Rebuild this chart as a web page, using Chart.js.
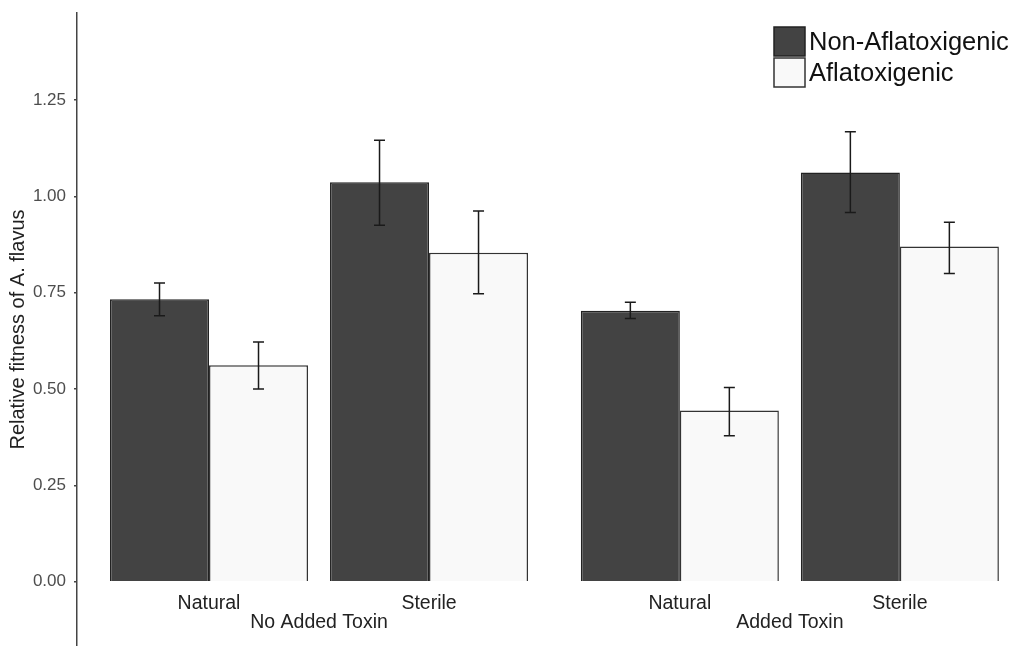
<!DOCTYPE html>
<html>
<head>
<meta charset="utf-8">
<script src="https://cdn.jsdelivr.net/npm/chart.js@4"></script>
<style>
  html, body { margin: 0; padding: 0; background: #fff; }
  #wrap { width: 1026px; height: 646px; position: relative; }
</style>
</head>
<body>
<div id="wrap"><canvas id="barChart"></canvas></div>
<script>
const categories = ['Natural', 'Sterile', 'Natural', 'Sterile'];
const facets = ['No Added Toxin', 'Added Toxin'];
const seriesNames = ['Non-Aflatoxigenic', 'Aflatoxigenic'];

const nonAflaMean = [0.733, 1.037, 0.703, 1.062];
const nonAflaLow = [0.690, 0.925, 0.683, 0.958];
const nonAflaHigh = [0.775, 1.146, 0.725, 1.168];

const aflaMean = [0.562, 0.854, 0.444, 0.870];
const aflaLow = [0.500, 0.747, 0.379, 0.800];
const aflaHigh = [0.622, 0.962, 0.504, 0.933];

const yTicks = [0, 0.25, 0.5, 0.75, 1.0, 1.25];

// x position of each category: two per facet, facets pushed apart a bit
const FACET_SHIFT = 2.14;
const xPos = (i) => 1 + (i % 2) + Math.floor(i / 2) * FACET_SHIFT;
const facetPos = facets.map((f, j) => 1.5 + j * FACET_SHIFT);

const FONT = '"Liberation Sans", Arial, sans-serif';
const X_MIN = 0.4, X_MAX = 4.686;

const data = {
  datasets: [
    {
      label: seriesNames[0],
      data: nonAflaMean.map((v, i) => ({ x: xPos(i), y: v })),
      low: nonAflaLow,
      high: nonAflaHigh,
      backgroundColor: '#434343',
      borderColor: '#222222',
      borderWidth: 1.5,
    },
    {
      label: seriesNames[1],
      data: aflaMean.map((v, i) => ({ x: xPos(i), y: v })),
      low: aflaLow,
      high: aflaHigh,
      backgroundColor: '#f9f9f9',
      borderColor: '#333333',
      borderWidth: 1.5,
    },
  ],
};

// error bars drawn on top of the bars
const errorBars = {
  id: 'errorBars',
  afterDatasetsDraw(chart) {
    const ctx = chart.ctx;
    const yScale = chart.scales.y;
    ctx.save();
    ctx.strokeStyle = '#1a1a1a';
    ctx.lineWidth = 1.5;
    chart.data.datasets.forEach((ds, d) => {
      chart.getDatasetMeta(d).data.forEach((bar, i) => {
        const top = yScale.getPixelForValue(ds.high[i]);
        const bot = yScale.getPixelForValue(ds.low[i]);
        const half = 5.5;
        ctx.beginPath();
        ctx.moveTo(bar.x, top);
        ctx.lineTo(bar.x, bot);
        ctx.moveTo(bar.x - half, top);
        ctx.lineTo(bar.x + half, top);
        ctx.moveTo(bar.x - half, bot);
        ctx.lineTo(bar.x + half, bot);
        ctx.stroke();
      });
    });
    ctx.restore();
  },
};

// stacked legend in the top right corner
const boxLegend = {
  id: 'boxLegend',
  afterDraw(chart) {
    const ctx = chart.ctx;
    const x0 = 774, y0 = 27, w = 31, h = 29, gap = 2;
    ctx.save();
    ctx.font = '25.5px ' + FONT;
    ctx.textBaseline = 'middle';
    ctx.textAlign = 'left';
    chart.data.datasets.forEach((ds, d) => {
      const y = y0 + d * (h + gap);
      ctx.fillStyle = ds.backgroundColor;
      ctx.fillRect(x0, y, w, h);
      ctx.strokeStyle = ds.borderColor;
      ctx.lineWidth = 1.5;
      ctx.strokeRect(x0, y, w, h);
      ctx.fillStyle = '#111111';
      ctx.fillText(ds.label, x0 + w + 4, y + h / 2 + 1);
    });
    ctx.restore();
  },
};

const xAxisBase = {
  type: 'linear',
  min: X_MIN,
  max: X_MAX,
  offset: false,
  position: { y: 0 },
  grid: { display: false, drawTicks: false },
  border: { display: false },
};

const config = {
  type: 'bar',
  data: data,
  options: {
    responsive: true,
    maintainAspectRatio: false,
    animation: false,
    categoryPercentage: 0.9,
    barPercentage: 1.0,
    layout: { padding: { top: 13, right: 6, bottom: 0, left: 0 } },
    scales: {
      x: {
        ...xAxisBase,
        afterBuildTicks: (scale) => {
          scale.ticks = categories.map((c, i) => ({ value: xPos(i) }));
        },
        ticks: {
          autoSkip: false,
          maxRotation: 0,
          padding: 10,
          color: '#222222',
          font: { family: FONT, size: 19.5 },
          callback: (value, index) => categories[index],
        },
      },
      x2: {
        ...xAxisBase,
        afterBuildTicks: (scale) => {
          scale.ticks = facetPos.map((v) => ({ value: v }));
        },
        ticks: {
          autoSkip: false,
          maxRotation: 0,
          padding: 29,
          color: '#222222',
          font: { family: FONT, size: 19.5 },
          callback: (value, index) => facets[index],
        },
      },
      y: {
        min: -0.167,
        max: 1.476,
        afterBuildTicks: (scale) => {
          scale.ticks = yTicks.map((v) => ({ value: v }));
        },
        afterFit: (scale) => {
          scale.width = 77;
          scale.paddingTop = 0;
          scale.paddingBottom = 0;
        },
        grid: {
          drawOnChartArea: false,
          tickLength: 3,
          color: '#444444',
          lineWidth: 1.5,
        },
        border: { display: true, color: '#444444', width: 1.5 },
        ticks: {
          padding: 8,
          color: '#4d4d4d',
          font: { family: FONT, size: 17 },
          callback: (value) => value.toFixed(2),
        },
        title: {
          display: true,
          text: 'Relative fitness of A. flavus',
          color: '#222222',
          font: { family: FONT, size: 20 },
          padding: { top: 6, bottom: 0 },
        },
      },
    },
    plugins: {
      legend: { display: false },
      tooltip: { enabled: false },
    },
  },
  plugins: [errorBars, boxLegend],
};

const ctx = document.getElementById('barChart').getContext('2d');
new Chart(ctx, config);
</script>
</body>
</html>
